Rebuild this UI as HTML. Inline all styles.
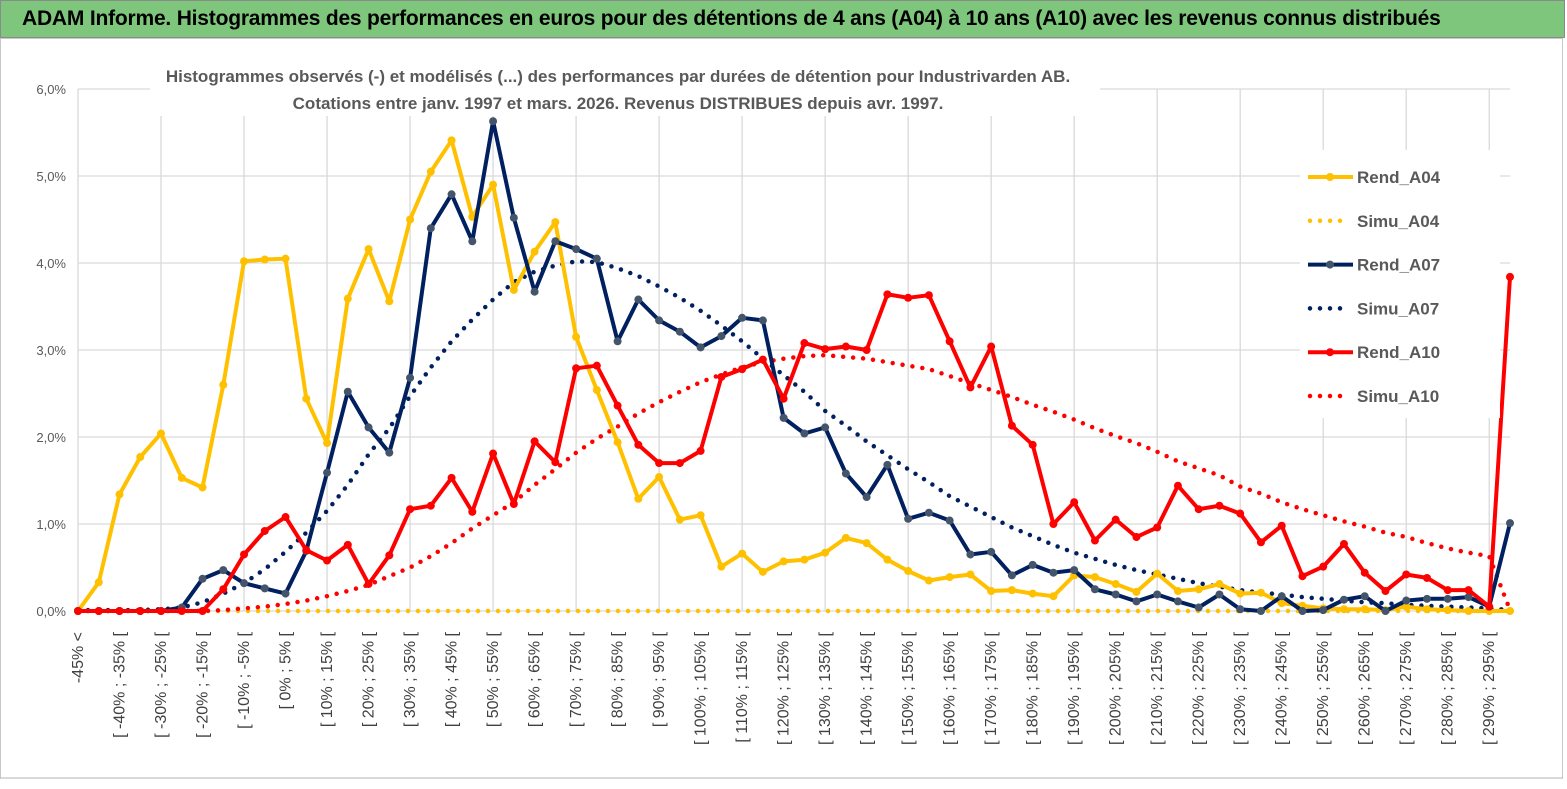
<!DOCTYPE html>
<html><head><meta charset="utf-8">
<style>
html,body{margin:0;padding:0;background:#fff;}
body{width:1567px;height:789px;overflow:hidden;position:relative;font-family:"Liberation Sans",sans-serif;}
#title{position:absolute;left:0;top:0;width:1565px;height:38px;background:#7dc67b;border:1px solid #8a8a8a;box-sizing:border-box;}
#title span{position:absolute;left:21px;top:6px;font-weight:bold;font-size:21px;color:#000;white-space:nowrap;letter-spacing:-0.2px;}
svg{position:absolute;left:0;top:0;}
</style></head><body>
<div id="title"><span>ADAM Informe. Histogrammes des performances en euros pour des détentions de 4 ans (A04) à 10 ans (A10) avec les revenus connus distribués</span></div>
<svg id="chart" width="1567" height="789"></svg>
<script>
const categoriesLower = [];
for (let v = -50; v <= 295; v += 5) categoriesLower.push(v);
const yTicks = [0,1,2,3,4,5,6];
const yTickLabels = ["0,0%","1,0%","2,0%","3,0%","4,0%","5,0%","6,0%"];
const rendA04 = [0,0.33,1.34,1.77,2.04,1.53,1.42,2.6,4.02,4.04,4.05,2.44,1.93,3.59,4.16,3.56,4.5,5.05,5.41,4.53,4.9,3.69,4.13,4.47,3.15,2.54,1.94,1.29,1.54,1.05,1.1,0.51,0.66,0.45,0.57,0.59,0.67,0.84,0.78,0.59,0.46,0.35,0.39,0.42,0.23,0.24,0.2,0.17,0.41,0.39,0.31,0.22,0.43,0.23,0.25,0.31,0.2,0.21,0.09,0.06,0.03,0.02,0.02,0.01,0.05,0.02,0.01,0,0,0];
const simuA04 = [0,0,0,0,0,0,0,0,0,0,0,0,0,0,0,0,0,0,0,0,0,0,0,0,0,0,0,0,0,0,0,0,0,0,0,0,0,0,0,0,0,0,0,0,0,0,0,0,0,0,0,0,0,0,0,0,0,0,0,0,0,0,0,0,0,0,0,0,0,0];
const rendA07 = [0,0,0,0,0,0.04,0.37,0.47,0.32,0.26,0.2,0.69,1.59,2.52,2.11,1.82,2.68,4.4,4.79,4.25,5.63,4.52,3.67,4.25,4.16,4.05,3.1,3.58,3.34,3.21,3.03,3.16,3.37,3.34,2.22,2.04,2.11,1.58,1.31,1.68,1.06,1.13,1.04,0.65,0.68,0.41,0.53,0.44,0.47,0.25,0.19,0.11,0.19,0.11,0.04,0.19,0.02,0,0.17,0,0.01,0.13,0.17,0,0.12,0.14,0.14,0.16,0.05,1.01];
const simuA07 = [0.01,0.01,0.01,0.01,0.02,0.04,0.1,0.2,0.32,0.48,0.68,0.9,1.15,1.45,1.8,2.1,2.47,2.8,3.1,3.35,3.58,3.78,3.9,3.97,4.02,4.01,3.94,3.85,3.73,3.6,3.45,3.28,3.1,2.9,2.71,2.52,2.3,2.13,1.95,1.79,1.63,1.48,1.32,1.2,1.08,0.96,0.86,0.76,0.67,0.6,0.53,0.47,0.42,0.37,0.32,0.28,0.24,0.21,0.19,0.16,0.14,0.12,0.1,0.09,0.07,0.06,0.05,0.04,0.03,0.01];
const rendA10 = [0,0,0,0,0,0,0,0.25,0.65,0.92,1.08,0.7,0.58,0.76,0.31,0.64,1.17,1.21,1.53,1.14,1.81,1.23,1.95,1.71,2.79,2.82,2.36,1.91,1.7,1.7,1.84,2.69,2.78,2.89,2.44,3.08,3.01,3.04,3.0,3.64,3.6,3.63,3.1,2.57,3.04,2.13,1.91,1.0,1.25,0.81,1.05,0.85,0.96,1.44,1.17,1.21,1.12,0.79,0.98,0.4,0.51,0.77,0.44,0.23,0.42,0.38,0.24,0.24,0.05,3.84];
const simuA10 = [0,0,0,0,0,0,0,0.01,0.03,0.05,0.08,0.12,0.17,0.23,0.3,0.4,0.5,0.63,0.78,0.95,1.1,1.25,1.45,1.63,1.82,1.98,2.12,2.27,2.4,2.52,2.63,2.72,2.8,2.86,2.9,2.93,2.94,2.92,2.9,2.86,2.82,2.78,2.7,2.62,2.54,2.46,2.37,2.29,2.2,2.1,2.01,1.93,1.83,1.72,1.64,1.56,1.43,1.35,1.25,1.17,1.1,1.03,0.97,0.9,0.85,0.78,0.72,0.67,0.63,0.01];

const NS="http://www.w3.org/2000/svg";
const svg=document.getElementById('chart');
const X0=78, X1=1510, Y0=611, Y6=89;
const n=categoriesLower.length;
function xs(i){return X0+(X1-X0)*i/(n-1);}
function ys(v){return Y0-(Y0-Y6)*v/6;}
function mk(tag,attrs,parent){const e=document.createElementNS(NS,tag);for(const k in attrs)e.setAttribute(k,attrs[k]);(parent||svg).appendChild(e);return e;}

const frame=mk('rect',{x:0.5,y:38.5,width:1562,height:740,fill:'#fff',stroke:'#c8c8c8','stroke-width':1});



const grid=mk('g',{});


yTicks.forEach((t,k)=>{
  mk('line',{x1:X0,x2:X1,y1:ys(t),y2:ys(t),stroke:'#d9d9d9','stroke-width':1.3},grid);
  const lb=mk('text',{x:66,y:ys(t)+5,'text-anchor':'end','font-size':13,fill:'#595959'});
  lb.textContent=yTickLabels[k];
  
  
});
for(let i=4;i<n;i+=4){
  mk('line',{x1:xs(i),x2:xs(i),y1:Y6,y2:Y0,stroke:'#d9d9d9','stroke-width':1.3},grid);
}
mk('line',{x1:X0,x2:X0,y1:Y6,y2:Y0,stroke:'#d9d9d9','stroke-width':1.3},grid);

function catLabel(i){
  if(i===0) return "-45% <";
  const lo=categoriesLower[i];
  return "[ "+lo+"% ; "+(lo+5)+"% [";
}
for(let i=0;i<n;i+=2){
  const x=xs(i)+5;
  const t=mk('text',{x:x,y:632,'text-anchor':'end','font-size':16,fill:'#404040',transform:`rotate(-90 ${x} 632)`});
  t.textContent=catLabel(i);
  
  
}

mk('rect',{x:150,y:58,width:950,height:58,fill:'#fff'});
const st1=mk('text',{x:618,y:82,'text-anchor':'middle','font-size':17,'font-weight':'bold',fill:'#595959'});
st1.textContent="Histogrammes observés (-) et modélisés (...) des performances par durées de détention pour Industrivarden AB.";


const st2=mk('text',{x:618,y:109,'text-anchor':'middle','font-size':17,'font-weight':'bold',fill:'#595959'});
st2.textContent="Cotations entre janv. 1997 et mars. 2026.  Revenus DISTRIBUES depuis avr. 1997.";



function poly(arr){return arr.map((v,i)=>xs(i).toFixed(1)+','+ys(v).toFixed(1)).join(' ');}
const series=[
 {name:'Rend_A04',data:rendA04,color:'#ffc000',mcolor:'#ffc000',dotted:false},
 {name:'Simu_A04',data:simuA04,color:'#ffc000',dotted:true},
 {name:'Rend_A07',data:rendA07,color:'#002060',mcolor:'#44546a',dotted:false},
 {name:'Simu_A07',data:simuA07,color:'#002060',dotted:true},
 {name:'Rend_A10',data:rendA10,color:'#ff0000',mcolor:'#ff0000',dotted:false},
 {name:'Simu_A10',data:simuA10,color:'#ff0000',dotted:true},
];
const order=[1,3,5,0,2,4];
order.forEach(k=>{
  const s=series[k];
  const g=mk('g',{});
  
  
  if(s.dotted){
    mk('polyline',{points:poly(s.data),fill:'none',stroke:s.color,'stroke-width':4.5,'stroke-dasharray':'0 10','stroke-linecap':'round'},g);
  }else{
    mk('polyline',{points:poly(s.data),fill:'none',stroke:s.color,'stroke-width':4,'stroke-linejoin':'round'},g);
    s.data.forEach((v,i)=>{
      const c=mk('circle',{cx:xs(i),cy:ys(v),r:4,fill:s.mcolor},g);
      
      
    });
  }
});

const lg=mk('g',{});


mk('rect',{x:1300,y:150,width:200,height:268,fill:'#fff'},lg);
series.forEach((s,k)=>{
  const y=177+k*43.8;
  const e=mk('g',{},lg);
  
  
  if(s.dotted){
    mk('line',{x1:1310,x2:1345,y1:y,y2:y,stroke:s.color,'stroke-width':4.5,'stroke-dasharray':'0 10','stroke-linecap':'round'},e);
  }else{
    mk('line',{x1:1308,x2:1353,y1:y,y2:y,stroke:s.color,'stroke-width':4},e);
    mk('circle',{cx:1330,cy:y,r:4,fill:s.mcolor},e);
  }
  const t=mk('text',{x:1357,y:y+6,'font-size':17,'font-weight':'bold',fill:'#595959'},e);
  t.textContent=s.name;
});
mk('line',{x1:1,x2:1562,y1:778,y2:778,stroke:'#d9d9d9','stroke-width':2});
</script>
</body></html>
